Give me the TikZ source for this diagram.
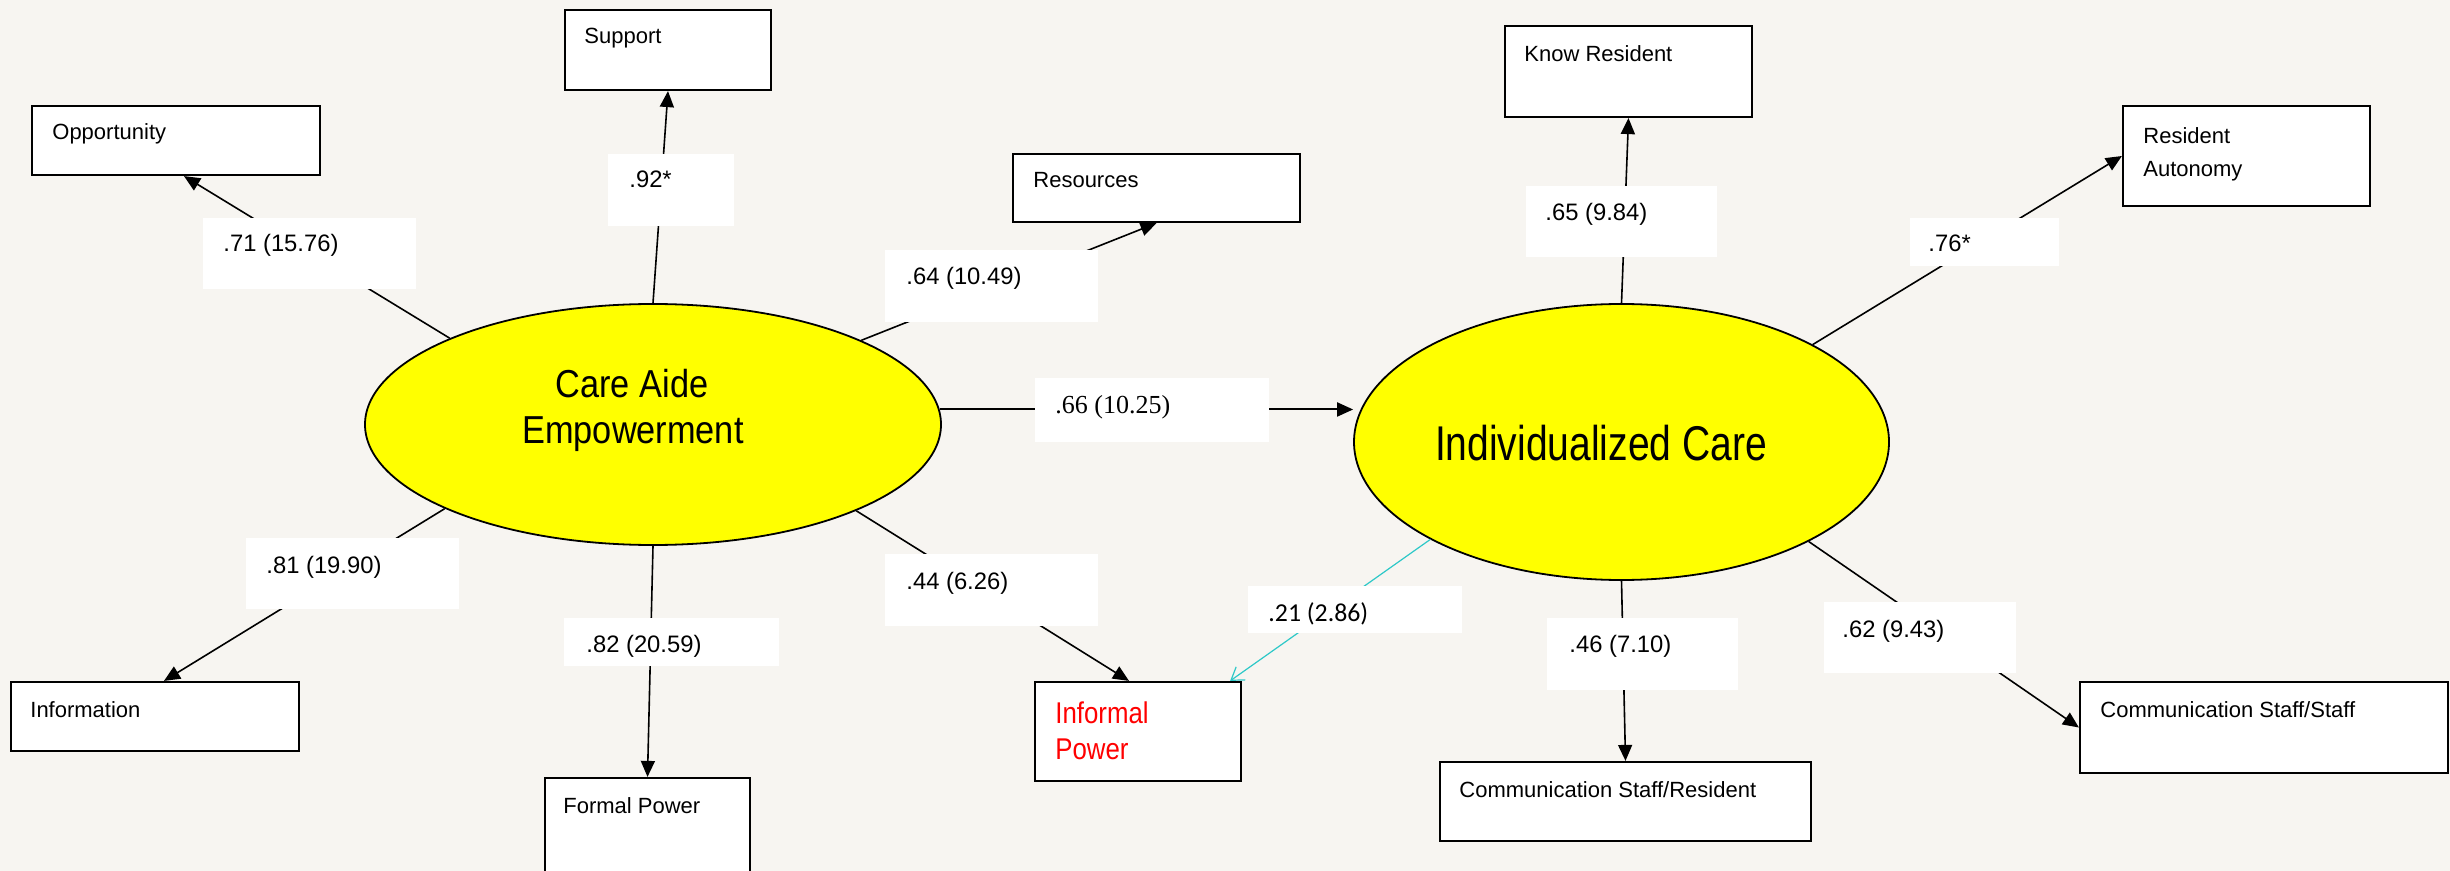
\documentclass[tikz,border=0pt]{standalone}
\usepackage{fontspec}
\setmainfont{Liberation Sans}
\newfontfamily\ellA{Liberation Sans}[FakeStretch=0.88]
\newfontfamily\ellB{Liberation Sans}[FakeStretch=0.8]
\newfontfamily\ipfont{Liberation Sans}[FakeStretch=0.86]
\newfontfamily\serifl{Liberation Serif}
\newfontfamily\calib{Carlito}
\usetikzlibrary{arrows.meta,fit,shapes.geometric}
\definecolor{paper}{RGB}{247,245,241}
\definecolor{ellyel}{RGB}{255,255,0}
\definecolor{cyanline}{RGB}{45,200,200}
\definecolor{ipred}{RGB}{255,0,0}
\begin{document}
\begin{tikzpicture}[x=0.5pt,y=-0.5pt,
 bx/.style={draw, line width=1.1pt, fill=white, inner sep=0pt},
 lb/.style={fill=white, inner sep=0pt},
 bt/.style={anchor=base west, inner sep=0pt, font=\fontsize{11}{13}\selectfont},
 lt/.style={anchor=base west, inner sep=0pt, font=\fontsize{11.9}{14}\selectfont},
 lat/.style={ellipse, draw, line width=0.9pt, fill=ellyel, inner sep=0pt},
 conn/.style={line width=0.8pt, -{Triangle[length=8pt,width=7pt]}},
]
\useasboundingbox (0,0) rectangle (2450,871);
\clip (0,0) rectangle (2450,871);
\fill[paper] (0,0) rectangle (2450,871);

% indicator boxes
\node[bx, fit={(565,10) (771,90)}] (sup) {};
\node[bx, fit={(32,106) (320,175)}] (opp) {};
\node[bx, fit={(1013,154) (1300,222)}] (res) {};
\node[bx, fit={(1505,26) (1752,117)}] (kr) {};
\node[bx, fit={(2123,106) (2370,206)}] (ra) {};
\node[bx, fit={(11,682) (299,751)}] (info) {};
\node[bx, fit={(545,778) (750,885)}] (fp) {};
\node[bx, fit={(1035,682) (1241,781)}] (ip) {};
\node[bx, fit={(1440,762) (1811,841)}] (csr) {};
\node[bx, fit={(2080,682) (2448,773)}] (css) {};

% latent variables
\node[lat, minimum width=288pt, minimum height=120.5pt] (cae) at (653,424.5) {};
\node[lat, minimum width=267.5pt, minimum height=138pt] (ic) at (1621.5,442) {};

% connectors
\draw[conn] (cae.157.4) -- ([xshift=4pt]opp.south);
\draw[conn] (cae.90) -- (sup.south);
\draw[conn] (cae.22.5) -- (res.south);
\draw[conn, line width=1pt] (cae.3.5) -- (cae.3.5 -| ic.west);
\draw[conn] (cae.202.6) -- ([xshift=4.5pt]info.north);
\draw[conn] (cae.270) -- (fp.north);
\draw[conn] (cae.337.5) -- ([xshift=-4.5pt]ip.north);
\draw[conn] (ic.90) -- (kr.south);
\draw[conn] (ic.27.6) -- (ra.west);
\draw[cyanline, line width=0.6pt, -{Straight Barb[length=6pt,width=8pt]}] (ic.207.1) -- ([xshift=-6pt]ip.north east);
\draw[conn] (ic.270) -- (csr.north);
\draw[conn] (ic.332.9) -- (css.west);

% label boxes
\node[lb, fit={(203,218) (416,289)}] (l71) {};
\node[lb, fit={(608,154) (734,226)}] (l92) {};
\node[lb, fit={(885,250) (1098,322)}] (l64) {};
\node[lb, fit={(1035,378) (1269,442)}] (l66) {};
\node[lb, fit={(246,538) (459,609)}] (l81) {};
\node[lb, fit={(564,618) (779,666)}] (l82) {};
\node[lb, fit={(885,554) (1098,626)}] (l44) {};
\node[lb, fit={(1526,186) (1717,257)}] (l65) {};
\node[lb, fit={(1910,218) (2059,266)}] (l76) {};
\node[lb, fit={(1248,586) (1462,633)}] (l21) {};
\node[lb, fit={(1547,618) (1738,690)}] (l46) {};
\node[lb, fit={(1824,602) (2016,673)}] (l62) {};

% label texts
\node[lt] (t71) at (223,252) {.71 (15.76)};
\node[lt] (t92) at (629,188) {.92*};
\node[lt] (t64) at (906,285) {.64 (10.49)};
\node[lt, font=\serifl\fontsize{13}{15}\selectfont] (t66) at (1055,413) {.66 (10.25)};
\node[lt] (t81) at (266,573) {.81 (19.90)};
\node[lt] (t82) at (586,652) {.82 (20.59)};
\node[lt] (t44) at (906,589) {.44 (6.26)};
\node[lt] (t65) at (1545,221) {.65 (9.84)};
\node[lt] (t76) at (1928,252) {.76*};
\node[lt, font=\calib\fontsize{12.9}{15}\selectfont] (t21) at (1268,621) {.21 (2.86)};
\node[lt] (t46) at (1569,652) {.46 (7.10)};
\node[lt] (t62) at (1842,637) {.62 (9.43)};

% box texts
\node[bt] (tsup) at (584,44) {Support};
\node[bt] (topp) at (52,140) {Opportunity};
\node[bt] (tres) at (1033,188) {Resources};
\node[bt] (tkr) at (1524,62) {Know Resident};
\node[bt] (tra1) at (2143,144) {Resident};
\node[bt] (tra2) at (2143,177) {Autonomy};
\node[bt] (tinfo) at (30,717) {Information};
\node[bt] (tfp) at (563,813) {Formal Power};
\node[bt, text=ipred, font=\ipfont\fontsize{15}{18}\selectfont] (tip1) at (1055,723) {Informal};
\node[bt, text=ipred, font=\ipfont\fontsize{15}{18}\selectfont] (tip2) at (1055,759) {Power};
\node[bt] (tcsr) at (1459,797) {Communication Staff/Resident};
\node[bt] (tcss) at (2100,717) {Communication Staff/Staff};

% latent texts
\node[anchor=base, inner sep=0pt, font=\ellA\fontsize{19.5}{23}\selectfont] (tcae1) at (632,397) {Care Aide};
\node[anchor=base, inner sep=0pt, font=\ellA\fontsize{19.5}{23}\selectfont] (tcae2) at (633,443) {Empowerment};
\node[anchor=base, inner sep=0pt, font=\ellB\fontsize{24.4}{28}\selectfont] (tic) at (1601,460) {Individualized Care};
\end{tikzpicture}
\end{document}
